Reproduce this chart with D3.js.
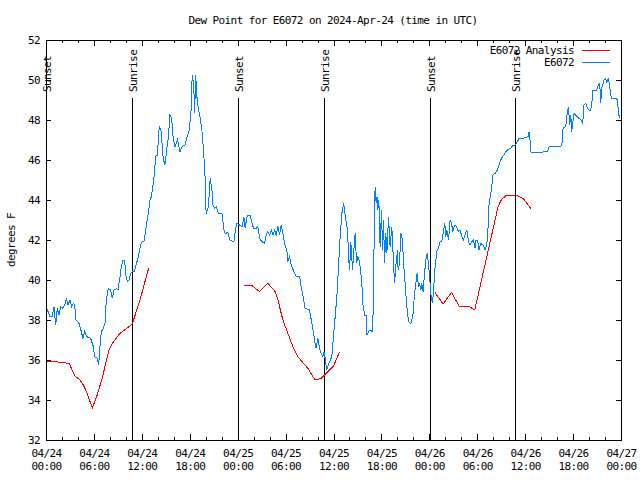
<!DOCTYPE html>
<html><head><meta charset="utf-8">
<script src="https://cdn.jsdelivr.net/npm/d3@7"></script>
<style>
body{margin:0;background:#fff;}
svg{display:block;}
text{font-family:"DejaVu Sans Mono",monospace;font-size:11px;letter-spacing:-0.6px;fill:#000;}
</style></head><body>
<svg id="c" width="640" height="480"></svg>
<script>
const chartTitle = "Dew Point for E6072 on 2024-Apr-24 (time in UTC)";
const yAxisLabel = "degrees F";
const seriesNames = ["E6072 Analysis", "E6072"];
const seriesColors = ["#ff0000", "#0080ff"];
const yTickValues = [32, 34, 36, 38, 40, 42, 44, 46, 48, 50, 52];
const xMajorHours = [0, 6, 12, 18, 24, 30, 36, 42, 48, 54, 60, 66, 72];
const xMinorHours = [0,2,4,6,8,10,12,14,16,18,20,22,24,26,28,30,32,34,36,38,40,42,44,46,48,50,52,54,56,58,60,62,64,66,68,70,72];
const sunHours = [0.02, 10.8, 24.05, 34.77, 48.08, 58.75];
const sunLabels = ["Sunset", "Sunrise", "Sunset", "Sunrise", "Sunset", "Sunrise"];

// hours after 2024-04-24 00:00 UTC
const obsHours = [0.10,0.50,0.79,1.00,1.21,1.42,1.63,1.84,2.05,2.34,2.55,2.75,3.01,3.21,3.42,3.59,3.76,4.13,4.42,4.63,4.84,5.09,5.59,5.93,6.09,6.43,6.60,6.72,6.93,7.18,7.39,7.51,7.68,7.81,8.10,8.31,8.51,8.85,9.02,9.27,9.43,9.64,9.85,9.98,10.18,10.39,10.60,10.81,11.02,11.23,11.56,11.85,12.06,12.27,12.40,12.61,12.81,13.02,13.19,13.31,13.44,13.57,13.73,13.94,14.18,14.39,14.68,14.89,15.11,15.31,15.52,15.73,15.93,16.15,16.48,16.77,17.11,17.40,17.61,17.93,18.15,18.31,18.49,18.61,18.74,18.94,19.27,19.52,19.69,19.80,19.94,19.99,20.06,20.28,20.40,20.56,20.78,20.90,21.11,21.31,21.61,22.07,22.24,22.44,22.78,22.99,23.53,23.74,23.90,24.24,24.57,24.78,24.94,25.12,25.28,25.53,25.69,25.99,26.32,26.53,26.75,27.03,27.37,27.57,27.78,28.00,28.20,28.41,28.62,28.82,29.04,29.25,29.45,29.66,29.87,30.16,30.29,30.50,30.70,31.04,31.33,31.75,31.95,32.17,32.45,33.00,33.29,33.50,33.70,33.83,34.04,34.26,34.46,34.67,34.79,34.96,35.13,35.29,35.51,35.79,36.01,36.21,36.42,36.63,36.83,37.05,37.26,37.38,37.55,37.76,37.89,38.01,38.17,38.39,38.55,38.71,38.89,39.05,39.21,39.39,39.55,39.67,39.89,40.09,40.18,40.39,40.59,40.89,41.01,41.09,41.21,41.34,41.46,41.55,41.68,41.84,42.01,42.14,42.27,42.39,42.55,42.68,42.89,43.09,43.30,43.52,43.64,43.80,44.02,44.09,44.27,44.43,44.64,44.77,44.97,45.18,45.39,45.68,45.93,46.15,46.31,46.47,46.65,46.77,46.93,47.06,47.22,47.40,47.56,47.72,47.90,48.06,48.22,48.40,48.56,48.72,48.94,49.15,49.35,49.56,49.77,49.94,50.06,50.19,50.40,50.60,50.78,50.94,51.10,51.31,51.48,51.65,51.85,52.07,52.28,52.48,52.69,52.90,53.10,53.32,53.53,53.73,53.85,54.03,54.23,54.44,54.73,54.98,55.19,55.32,55.48,55.70,55.82,55.98,56.23,56.53,56.73,56.95,57.16,57.36,57.57,57.86,58.20,58.41,58.74,59.04,59.24,59.66,60.08,60.36,60.49,60.61,60.74,61.33,62.79,62.99,64.54,64.67,64.74,65.08,65.29,65.42,65.58,65.71,65.83,65.96,66.12,66.75,67.00,67.21,67.37,67.58,67.80,68.00,68.21,68.34,68.50,68.96,69.17,69.34,69.46,69.59,69.87,70.09,70.21,70.38,70.55,70.68,70.80,71.34,71.55,71.69,71.84];
const obsValues = [38.58,38.17,38.17,38.67,37.75,38.58,38.25,38.67,38.58,38.75,39.08,38.75,39.00,38.67,38.83,38.75,38.00,37.83,37.42,37.08,37.42,37.17,37.08,36.67,36.17,36.08,35.75,36.50,37.42,37.58,37.83,38.75,39.33,39.58,39.50,39.08,39.50,39.58,39.50,40.17,40.67,41.00,41.00,40.25,39.92,40.00,40.33,40.42,40.42,40.67,41.17,41.75,41.92,41.92,42.25,42.83,43.33,44.00,44.17,44.50,44.83,45.33,46.17,46.25,47.67,47.50,46.08,45.75,46.50,47.08,48.25,48.08,47.08,46.67,47.03,46.42,46.70,46.75,47.08,47.50,48.33,50.25,49.83,48.33,50.25,48.92,48.17,47.50,46.67,46.00,45.00,43.92,43.33,43.58,44.08,45.08,44.50,43.75,43.58,43.67,43.33,43.30,42.58,42.33,42.37,42.00,41.92,42.58,42.83,42.75,42.67,43.17,42.58,43.08,43.25,43.25,43.00,42.58,42.58,42.67,42.08,41.92,41.83,42.25,42.42,42.25,42.50,42.25,42.50,42.25,42.67,42.25,42.75,42.33,41.83,41.50,40.92,41.17,40.75,40.42,40.20,40.20,39.67,39.25,38.58,38.50,37.83,37.33,36.83,36.58,37.08,36.58,36.33,36.17,36.42,36.08,35.50,35.67,35.92,36.17,37.25,38.17,39.17,40.67,42.17,43.33,43.83,43.50,43.00,42.50,41.17,40.50,41.92,40.50,41.50,42.33,40.83,41.17,41.00,40.50,39.83,38.83,38.25,38.25,37.25,37.42,37.50,37.42,39.17,42.17,44.67,43.83,44.17,43.50,44.00,41.67,43.50,41.50,43.00,40.83,42.33,41.33,43.17,41.67,42.67,40.83,39.83,40.67,41.50,40.50,40.83,42.33,42.00,40.83,39.83,38.67,37.92,37.83,38.17,39.33,39.83,40.33,39.67,39.83,39.50,39.83,39.42,40.33,41.00,41.33,40.83,40.00,39.20,38.83,39.67,40.67,41.42,41.58,41.92,41.92,42.42,42.83,42.17,42.50,42.00,43.00,42.83,42.42,42.67,42.75,42.58,42.42,42.50,42.17,42.00,42.25,42.50,41.92,41.75,41.92,42.00,41.58,42.00,42.00,41.50,41.83,41.75,41.50,41.75,42.33,43.83,44.33,44.67,45.25,45.33,45.50,45.75,46.00,46.17,46.25,46.42,46.53,46.58,46.70,46.75,46.92,47.08,47.08,47.12,47.17,47.42,47.00,46.37,46.37,46.42,46.67,46.70,47.00,47.58,47.67,48.42,48.67,47.75,48.25,47.42,47.83,48.33,48.08,48.00,47.83,48.75,48.83,48.58,48.50,48.50,48.83,49.50,49.50,49.75,49.83,48.83,49.58,50.00,50.08,49.83,50.08,49.83,49.33,49.08,49.08,49.00,48.33,48.08];

// analysis series, null = gap
const anaHours = [0.05,1.10,2.90,3.60,4.26,4.67,5.09,5.80,6.35,6.97,7.59,7.88,8.43,9.26,10.10,10.80,11.77,12.86,null,24.78,25.69,26.74,27.78,28.70,29.04,29.66,30.29,30.91,31.54,32.17,32.79,33.42,33.71,34.46,35.29,36.00,36.76,null,48.69,49.73,50.78,51.73,52.86,53.69,56.61,57.00,57.66,58.79,59.74,60.79];
const anaValues = [35.95,35.92,35.83,35.20,35.00,34.75,34.40,33.60,34.17,35.00,36.00,36.50,36.90,37.33,37.58,37.80,39.00,40.60,null,39.70,39.75,39.42,39.83,39.42,39.00,38.00,37.33,36.67,36.17,35.87,35.58,35.17,35.00,35.08,35.42,35.70,36.40,null,39.38,38.80,39.38,38.70,38.70,38.50,43.67,44.00,44.25,44.25,44.08,43.53];

const t0 = Date.UTC(2024, 3, 24);
const toDate = h => new Date(t0 + h * 3600000);
const L = 46, R = 621, T = 40, B = 440;

const svg = d3.select("#c");
const x = d3.scaleUtc().domain([toDate(0), toDate(72)]).range([L, R]);
const y = d3.scaleLinear().domain([32, 52]).range([B, T]);

// title
svg.append("text").attr("x", 333).attr("y", 24).attr("text-anchor", "middle").text(chartTitle);
// y label
svg.append("text").attr("transform", "translate(15,240) rotate(-90)").attr("text-anchor", "middle").text(yAxisLabel);

// axes
const crisp = g => g.attr("shape-rendering", "crispEdges");
const fmtDay = d3.utcFormat("%m/%d"), fmtTime = d3.utcFormat("%H:%M");
const gB = svg.append("g").attr("transform", `translate(0,${B})`).call(crisp)
  .call(d3.axisBottom(x).tickValues(xMajorHours.map(toDate)).tickSize(-6).tickSizeOuter(0).tickFormat(""));
gB.selectAll(".tick text").remove();
gB.selectAll(".tick").each(function(d) {
  const g = d3.select(this);
  g.append("text").attr("x", 0).attr("y", 17).attr("text-anchor", "middle").text(fmtDay(d));
  g.append("text").attr("x", 0).attr("y", 30).attr("text-anchor", "middle").text(fmtTime(d));
});
svg.append("g").attr("transform", `translate(0,${B})`).call(crisp)
  .call(d3.axisBottom(x).tickValues(xMinorHours.map(toDate)).tickSize(-3).tickSizeOuter(0).tickFormat(""));
svg.append("g").attr("transform", `translate(0,${T})`).call(crisp)
  .call(d3.axisTop(x).tickValues(xMajorHours.map(toDate)).tickSize(-6).tickSizeOuter(0).tickFormat(""));
svg.append("g").attr("transform", `translate(0,${T})`).call(crisp)
  .call(d3.axisTop(x).tickValues(xMinorHours.map(toDate)).tickSize(-3).tickSizeOuter(0).tickFormat(""));
svg.append("g").attr("transform", `translate(${L},0)`).call(crisp)
  .call(d3.axisLeft(y).tickValues(yTickValues).tickSize(-5).tickSizeOuter(0).tickPadding(6).tickFormat(d3.format("d")));
svg.append("g").attr("transform", `translate(${R},0)`).call(crisp)
  .call(d3.axisRight(y).tickValues(yTickValues).tickSize(-5).tickSizeOuter(0).tickFormat(""));
svg.selectAll(".tick line").attr("stroke", "#000");
svg.selectAll(".domain").remove();
svg.selectAll("g").attr("font-family", null).attr("font-size", null);
svg.selectAll(".tick text").attr("fill", "#000");

// frame
svg.append("rect").attr("x", L).attr("y", T).attr("width", R - L).attr("height", B - T)
  .attr("fill", "none").attr("stroke", "#000").attr("shape-rendering", "crispEdges");

// sunrise / sunset markers
sunHours.forEach((h, i) => {
  const xp = Math.round(x(toDate(h)));
  svg.append("line").attr("x1", xp).attr("x2", xp).attr("y1", 98).attr("y2", B)
    .attr("stroke", "#000").attr("shape-rendering", "crispEdges");
  svg.append("text").attr("transform", `translate(${xp + 5},92) rotate(-90)`).text(sunLabels[i]);
});

// lines
const line = d3.line().defined(d => d[1] != null).x(d => x(toDate(d[0]))).y(d => y(d[1]));
const anaData = anaHours.map((h, i) => [h, anaValues[i]]);
const obsData = obsHours.map((h, i) => [h, obsValues[i]]);
svg.append("path").datum(anaData).attr("d", line).attr("fill", "none").attr("stroke", seriesColors[0])
  .attr("stroke-width", 1).attr("shape-rendering", "crispEdges");
svg.append("path").datum(obsData).attr("d", line).attr("fill", "none").attr("stroke", seriesColors[1])
  .attr("stroke-width", 1).attr("shape-rendering", "crispEdges");

// legend
seriesNames.forEach((name, i) => {
  const yy = 50 + i * 12;
  svg.append("text").attr("x", 574).attr("y", yy + 4).attr("text-anchor", "end").text(name);
  svg.append("line").attr("x1", 582).attr("x2", 610).attr("y1", yy).attr("y2", yy)
    .attr("stroke", seriesColors[i]).attr("shape-rendering", "crispEdges");
});
</script>
</body></html>
